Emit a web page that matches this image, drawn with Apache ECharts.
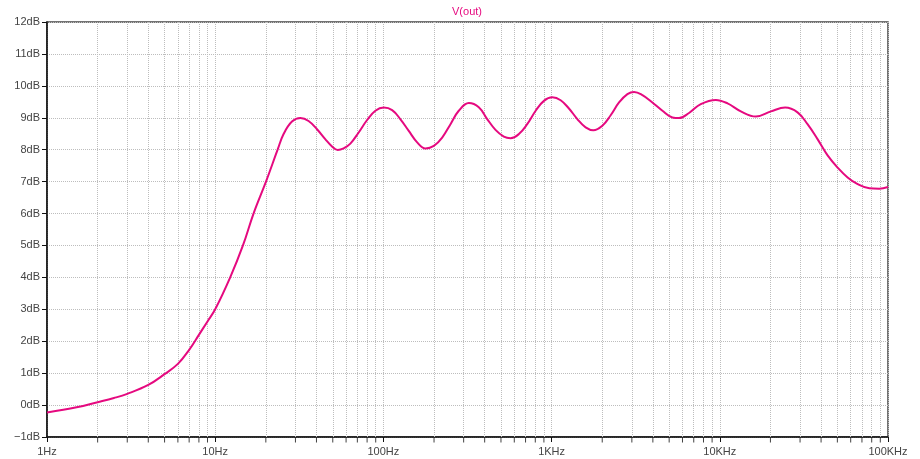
<!DOCTYPE html>
<html>
<head>
<meta charset="utf-8">
<script src="https://cdn.jsdelivr.net/npm/echarts@6/dist/echarts.min.js"></script>
<style>html,body{margin:0;padding:0;background:#fff}#c{width:920px;height:459px}</style>
</head>
<body>
<div id="c"></div>
<script>
var titleText = 'V(out)';
var freqs = [1, 1.5, 2, 2.5, 3, 4, 5, 6, 7, 8, 9, 10, 12.28, 14.62, 16.9, 20.04, 23.5, 25.5, 28.6, 32.1, 35.9, 40.3, 45.1, 49.5, 53.5, 58, 63.6, 71.3, 80, 89.6, 100.5, 112.7, 126, 141.5, 158.8, 177.8, 199.5, 223.6, 250.6, 280.6, 322, 369, 414, 464, 520, 570, 639, 716, 804, 900, 1009, 1132, 1268, 1422, 1593, 1770, 2003, 2245, 2518, 2823, 3093, 3467, 3973, 4560, 5227, 5724, 6562, 7709, 9470, 11120, 13340, 16370, 20130, 24470, 28990, 33240, 38110, 43740, 50150, 57540, 66010, 77480, 88760, 100000];
var vout = [-0.23, -0.07, 0.09, 0.22, 0.35, 0.63, 0.97, 1.29, 1.73, 2.2, 2.62, 3.0, 4.0, 5.0, 6.0, 7.0, 8.0, 8.49, 8.88, 8.99, 8.9, 8.64, 8.33, 8.1, 7.99, 8.04, 8.19, 8.54, 8.93, 9.22, 9.32, 9.24, 8.96, 8.59, 8.23, 8.04, 8.12, 8.38, 8.8, 9.22, 9.46, 9.33, 8.96, 8.62, 8.41, 8.36, 8.49, 8.8, 9.22, 9.53, 9.64, 9.55, 9.29, 8.96, 8.7, 8.61, 8.75, 9.08, 9.48, 9.74, 9.81, 9.71, 9.48, 9.22, 9.01, 8.99, 9.15, 9.43, 9.56, 9.45, 9.2, 9.04, 9.2, 9.32, 9.17, 8.8, 8.33, 7.82, 7.44, 7.13, 6.92, 6.79, 6.78, 6.83];
var xTickValues = [1, 10, 100, 1000, 10000, 100000];
var xTickLabels = ['1Hz', '10Hz', '100Hz', '1KHz', '10KHz', '100KHz'];
var minorMultipliers = [2, 3, 4, 5, 6, 7, 8, 9];
var decades = [1, 10, 100, 1000, 10000];

var minorFreqs = [];
decades.forEach(function (d) { minorMultipliers.forEach(function (m) { minorFreqs.push(m * d); }); });

var lineColor = '#e5097f';
var gridColor = '#bdbdbd';
var labelFont = { fontFamily: 'Liberation Sans, Arial, sans-serif', fontSize: 11, color: '#444' };

var chart = echarts.init(document.getElementById('c'));
chart.setOption({
  animation: false,
  backgroundColor: '#fff',
  title: {
    text: titleText, left: 462, top: 1, textAlign: 'center',
    textStyle: { fontFamily: 'Liberation Sans, Arial, sans-serif', fontSize: 11, fontWeight: 'normal', color: lineColor }
  },
  grid: { left: 47, right: 32, top: 22, bottom: 22, show: true, borderColor: '#444', borderWidth: 1.5 },
  xAxis: {
    type: 'log', logBase: 10, min: 1, max: 100000,
    axisLine: { onZero: false, lineStyle: { color: '#111', width: 1.5 } },
    axisTick: { show: true, inside: false, length: 5, lineStyle: { color: '#111' } },
    axisLabel: Object.assign({ margin: 9, formatter: function (v) {
      var i = xTickValues.indexOf(Math.round(v)); return i >= 0 ? xTickLabels[i] : '';
    } }, labelFont),
    splitLine: { show: true, lineStyle: { color: gridColor, type: 'dotted', width: 1 } }
  },
  yAxis: {
    type: 'value', min: -1, max: 12, interval: 1,
    axisLine: { show: true, onZero: false, lineStyle: { color: '#111', width: 1.5 } },
    axisTick: { show: true, inside: false, length: 5, lineStyle: { color: '#111' } },
    axisLabel: Object.assign({ margin: 7, formatter: function (v) {
      return (v < 0 ? '\u2212' + (-v) : v) + 'dB';
    } }, labelFont),
    splitLine: { show: true, lineStyle: { color: gridColor, type: 'dotted', width: 1 } }
  },
  series: [
    {
      type: 'line', silent: true, data: [], symbol: 'none',
      markLine: {
        silent: true, symbol: ['none', 'none'], label: { show: false },
        lineStyle: { color: gridColor, type: 'dotted', width: 1 },
        data: minorFreqs.map(function (f) { return { xAxis: f }; })
      }
    },
    {
      type: 'scatter', silent: true, clip: false,
      symbol: 'rect', symbolSize: [1, 5], symbolOffset: [0, 3],
      itemStyle: { color: '#111' },
      data: minorFreqs.map(function (f) { return [f, -1]; })
    },
    {
      type: 'line', name: titleText, smooth: 0.4, symbol: 'none',
      lineStyle: { color: lineColor, width: 2 },
      data: freqs.map(function (f, i) { return [f, vout[i]]; }),
      z: 5
    }
  ]
});
</script>
</body>
</html>
